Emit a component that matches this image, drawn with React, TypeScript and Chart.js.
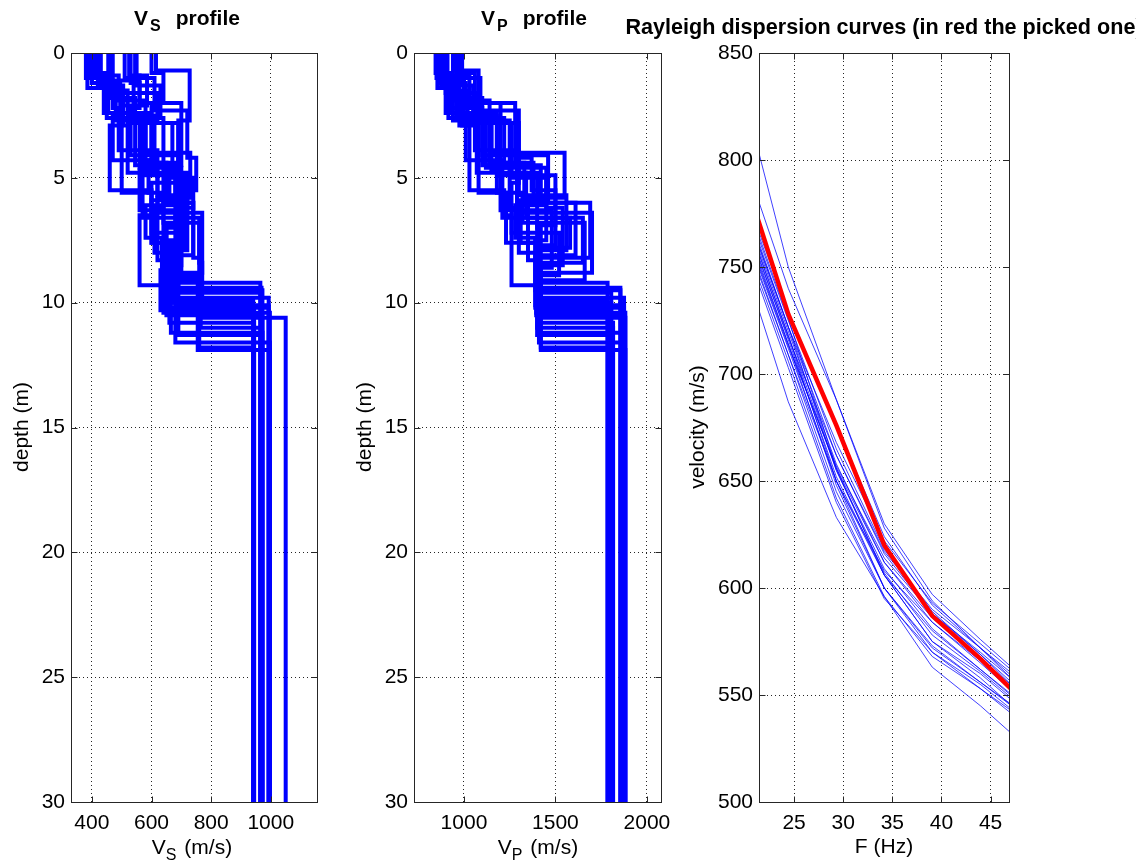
import React, { useEffect, useRef } from 'react';
import { Chart, registerables } from 'chart.js';

Chart.register(...registerables);

const FONT = '"Liberation Sans", Arial, Helvetica, sans-serif';

// ---------- tick labels ----------
const DEPTH_TICKS = [0, 5, 10, 15, 20, 25, 30];
const VS_TICKS = [400, 600, 800, 1000];
const VP_TICKS = [1000, 1500, 2000];
const FREQ_TICKS = [25, 30, 35, 40, 45];
const VEL_TICKS = [500, 550, 600, 650, 700, 750, 800, 850];

// ---------- dispersion curves ----------
const FREQUENCIES = [19.53, 24.41, 29.3, 34.18, 39.06, 43.95, 48.83];
const PICKED_CURVE = [798, 728, 676, 620, 587, 567, 545];
const MODEL_CURVES = [
  [837, 750, 688, 628, 594, 572, 552],
  [806, 740, 688, 630, 597, 576, 556],
  [790, 729, 676, 624, 592, 572, 550],
  [787, 725, 665, 618, 589, 569, 547],
  [784, 722, 662, 616, 588, 569, 549],
  [782, 720, 658, 612, 584, 565, 545],
  [780, 718, 655, 609, 581, 562, 543],
  [779, 716, 652, 606, 575, 560, 541],
  [777, 714, 648, 600, 572, 556, 539],
  [775, 714, 656, 612, 586, 567, 548],
  [773, 712, 650, 606, 580, 562, 544],
  [772, 709, 645, 600, 573, 556, 540],
  [770, 709, 650, 608, 584, 566, 547],
  [768, 706, 642, 596, 568, 553, 537],
  [766, 703, 640, 595, 570, 553, 535],
  [757, 687, 633, 596, 563, 545, 525],
  [781, 718, 650, 600, 570, 555, 537],
  [777, 717, 662, 617, 590, 572, 554],
  [786, 722, 655, 607, 578, 561, 542],
  [774, 713, 657, 614, 588, 570, 551],
  [789, 726, 656, 606, 575, 558, 538],
  [783, 722, 668, 622, 593, 574, 555],
];

// ---------- layered models (interface depths, m) ----------
const LAYER_DEPTHS = [
  [0.7, 2.7, 4.8, 6.6, 8.4, 10.6],
  [1.0, 2.4, 4.3, 5.6, 7.6, 9.2],
  [1.2, 2.6, 4.6, 6.2, 8.0, 10.0],
  [1.6, 2.9, 5.5, 6.5, 9.3, 11.6],
  [0.9, 2.0, 4.4, 5.9, 7.5, 9.5],
  [1.3, 2.5, 4.9, 6.9, 8.7, 10.3],
  [1.1, 2.2, 3.9, 5.7, 7.9, 9.8],
  [0.8, 1.8, 4.5, 6.0, 8.2, 11.0],
  [1.5, 2.8, 5.2, 7.2, 8.9, 11.9],
  [1.0, 2.3, 4.2, 5.5, 7.7, 10.5],
  [1.2, 2.7, 4.7, 6.3, 8.6, 9.9],
  [0.9, 2.1, 5.6, 6.8, 9.1, 11.3],
  [1.4, 2.6, 4.6, 6.1, 7.4, 10.2],
  [1.1, 2.5, 4.0, 5.8, 8.3, 10.8],
  [0.8, 2.0, 4.5, 6.4, 8.8, 9.4],
  [1.3, 2.9, 4.8, 7.0, 9.0, 11.8],
  [1.0, 2.4, 4.3, 6.6, 7.8, 10.4],
  [1.6, 2.8, 5.0, 6.2, 8.5, 11.2],
  [1.2, 2.2, 4.1, 5.9, 7.6, 9.6],
  [0.9, 1.9, 4.4, 6.0, 8.1, 10.1],
];

// shear-wave velocities per layer (m/s), last = half-space
const VS_LAYERS = [
  [615, 728, 690, 720, 760, 770, 1050],
  [380, 440, 470, 590, 600, 670, 965],
  [400, 495, 560, 640, 610, 640, 941],
  [455, 500, 460, 600, 560, 680, 997],
  [525, 560, 600, 680, 640, 690, 972],
  [550, 630, 570, 710, 650, 630, 944],
  [425, 470, 490, 620, 720, 660, 993],
  [390, 460, 545, 660, 740, 765, 969],
  [460, 520, 690, 600, 700, 755, 997],
  [510, 610, 720, 750, 690, 650, 972],
  [400, 480, 610, 560, 680, 675, 941],
  [545, 585, 500, 640, 760, 690, 965],
  [385, 450, 640, 700, 580, 635, 993],
  [430, 540, 580, 730, 620, 660, 944],
  [600, 640, 700, 620, 770, 685, 969],
  [420, 505, 520, 680, 650, 760, 941],
  [395, 455, 600, 570, 710, 640, 997],
  [470, 620, 670, 740, 700, 665, 972],
  [530, 560, 530, 690, 600, 645, 965],
  [410, 490, 580, 650, 740, 680, 993],
];

// compressional-wave velocities per layer (m/s), last = half-space
const VP_LAYERS = [
  [950, 1080, 1250, 1340, 1650, 1420, 1882],
  [850, 900, 1010, 1180, 1230, 1395, 1785],
  [870, 960, 1120, 1250, 1300, 1400, 1805],
  [900, 990, 1030, 1220, 1260, 1410, 1865],
  [960, 1000, 1200, 1380, 1450, 1390, 1855],
  [990, 1050, 1180, 1500, 1400, 1405, 1795],
  [880, 930, 1060, 1300, 1560, 1415, 1875],
  [845, 920, 1100, 1420, 1690, 1400, 1815],
  [905, 1020, 1300, 1260, 1520, 1420, 1882],
  [940, 1090, 1300, 1370, 1500, 1395, 1865],
  [860, 940, 1150, 1200, 1480, 1410, 1785],
  [970, 1030, 1080, 1320, 1660, 1400, 1805],
  [855, 915, 1220, 1450, 1280, 1390, 1875],
  [890, 1000, 1150, 1550, 1350, 1415, 1815],
  [985, 1060, 1280, 1290, 1700, 1405, 1855],
  [875, 975, 1070, 1400, 1420, 1420, 1795],
  [865, 925, 1180, 1210, 1580, 1395, 1882],
  [910, 1070, 1260, 1450, 1540, 1410, 1865],
  [965, 1010, 1100, 1460, 1310, 1400, 1805],
  [870, 955, 1140, 1330, 1610, 1390, 1875],
];

const MAX_DEPTH = 30;

// ---------- helpers ----------
type Pt = { x: number; y: number };

function stepProfile(depths: number[], vels: number[]): Pt[] {
  const pts: Pt[] = [];
  let top = 0;
  for (let i = 0; i < vels.length; i++) {
    const bottom = i < depths.length ? depths[i] : MAX_DEPTH;
    pts.push({ x: vels[i], y: top });
    pts.push({ x: vels[i], y: bottom });
    top = bottom;
  }
  return pts;
}

function curvePoints(vals: number[]): Pt[] {
  return FREQUENCIES.map((f, i) => ({ x: f, y: vals[i] }));
}

type Part = { text: string; sub?: boolean; pad?: number };

function drawRich(
  ctx: CanvasRenderingContext2D,
  parts: Part[],
  cx: number,
  cy: number,
  size: number,
  weight: string,
  angle: number,
  align: 'center' | 'left'
) {
  ctx.save();
  ctx.translate(cx, cy);
  ctx.rotate(angle);
  const subSize = Math.round(size * 0.78);
  let total = 0;
  const widths = parts.map((p) => {
    ctx.font = `${weight} ${p.sub ? subSize : size}px ${FONT}`;
    const w = ctx.measureText(p.text).width + (p.pad || 0);
    total += w;
    return w;
  });
  let x = align === 'center' ? -total / 2 : 0;
  ctx.fillStyle = '#000';
  ctx.textBaseline = 'alphabetic';
  ctx.textAlign = 'left';
  parts.forEach((p, i) => {
    ctx.font = `${weight} ${p.sub ? subSize : size}px ${FONT}`;
    ctx.fillText(p.text, x + (p.pad || 0), p.sub ? Math.round(size * 0.3) : 0);
    x += widths[i];
  });
  ctx.restore();
}

const framePlugin = {
  id: 'frame',
  afterDraw(chart: any, _args: any, opts: any) {
    const { ctx, chartArea: a } = chart;
    const xs = chart.scales.x;
    const ys = chart.scales.y;
    const L = Math.floor(a.left) + 0.5;
    const R = Math.floor(a.right) + 0.5;
    const T = Math.floor(a.top) + 0.5;
    const B = Math.floor(a.bottom) + 0.5;
    const tl = 6;
    ctx.save();
    ctx.strokeStyle = '#262626';
    ctx.lineWidth = 1;
    ctx.beginPath();
    (opts.xTicks || []).forEach((v: number) => {
      const px = Math.round(xs.getPixelForValue(v)) + 0.5;
      ctx.moveTo(px, B);
      ctx.lineTo(px, B - tl);
      ctx.moveTo(px, T);
      ctx.lineTo(px, T + tl);
    });
    (opts.yTicks || []).forEach((v: number) => {
      const py = Math.round(ys.getPixelForValue(v)) + 0.5;
      ctx.moveTo(L, py);
      ctx.lineTo(L + tl, py);
      ctx.moveTo(R, py);
      ctx.lineTo(R - tl, py);
    });
    ctx.stroke();
    ctx.strokeRect(L, T, R - L, B - T);
    ctx.restore();

    (opts.texts || []).forEach((t: any) => {
      drawRich(ctx, t.parts, t.x, t.y, t.size, t.weight || 'normal', t.angle || 0, t.align || 'center');
    });
  },
};

const W = 1136;
const H = 867;
const TOP = 53;
const BOTTOM = 802;
const YW = 60;
const XH = 30;
const TICK_SIZE = 21;
const LABEL_SIZE = 21;

type PanelSpec = {
  left: number;
  right: number;
  xMin: number;
  xMax: number;
  yMin: number;
  yMax: number;
  reverse: boolean;
  xTicks: number[];
  yTicks: number[];
  datasets: any[];
  texts: any[];
};

function buildChart(canvas: HTMLCanvasElement, s: PanelSpec) {
  const tickFont = { family: FONT, size: TICK_SIZE };
  const gridCommon = {
    color: 'rgba(0,0,0,0.85)',
    lineWidth: 1,
    drawTicks: false,
  };
  return new Chart(canvas, {
    type: 'scatter',
    data: { datasets: s.datasets },
    options: {
      animation: false,
      responsive: false,
      devicePixelRatio: 1,
      events: [],
      layout: {
        padding: {
          left: s.left - YW,
          right: W - s.right,
          top: TOP,
          bottom: H - BOTTOM - XH,
        },
      },
      plugins: {
        legend: { display: false },
        tooltip: { enabled: false },
        title: { display: false },
        frame: { xTicks: s.xTicks, yTicks: s.yTicks, texts: s.texts },
      } as any,
      scales: {
        x: {
          type: 'linear',
          min: s.xMin,
          max: s.xMax,
          afterBuildTicks: (sc: any) => {
            sc.ticks = s.xTicks.map((v) => ({ value: v }));
          },
          afterFit: (sc: any) => {
            sc.height = XH;
          },
          grid: gridCommon,
          border: { display: false, dash: [1, 3] },
          ticks: {
            font: tickFont,
            color: '#000',
            padding: 9,
            maxRotation: 0,
            autoSkip: false,
            callback: (v: any) => String(v),
          },
        },
        y: {
          type: 'linear',
          min: s.yMin,
          max: s.yMax,
          reverse: s.reverse,
          afterBuildTicks: (sc: any) => {
            sc.ticks = s.yTicks.map((v) => ({ value: v }));
          },
          afterFit: (sc: any) => {
            sc.width = YW;
          },
          grid: gridCommon,
          border: { display: false, dash: [1, 3] },
          ticks: {
            font: tickFont,
            color: '#000',
            padding: 6,
            autoSkip: false,
            callback: (v: any) => String(v),
          },
        },
      },
    } as any,
    plugins: [framePlugin as any],
  });
}

function profileDatasets(vels: number[][]) {
  return vels.map((v, i) => ({
    data: stepProfile(LAYER_DEPTHS[i], v),
    showLine: true,
    borderColor: '#0000ff',
    backgroundColor: '#0000ff',
    borderWidth: 4,
    pointRadius: 0,
    borderJoinStyle: 'miter',
    fill: false,
    tension: 0,
    clip: 0,
  }));
}

function dispersionDatasets() {
  const red = {
    data: curvePoints(PICKED_CURVE),
    showLine: true,
    borderColor: '#ff0000',
    borderWidth: 4.5,
    pointRadius: 0,
    fill: false,
    tension: 0,
    clip: 0,
  };
  const blues = MODEL_CURVES.map((c) => ({
    data: curvePoints(c),
    showLine: true,
    borderColor: 'rgba(0,0,255,0.75)',
    borderWidth: 1,
    pointRadius: 0,
    fill: false,
    tension: 0,
    clip: 0,
  }));
  return [red, ...blues];
}

export default function App() {
  const c1 = useRef<HTMLCanvasElement>(null);
  const c2 = useRef<HTMLCanvasElement>(null);
  const c3 = useRef<HTMLCanvasElement>(null);

  useEffect(() => {
    Chart.defaults.font.family = FONT;
    Chart.defaults.color = '#000';
    const charts: Chart[] = [];
    charts.push(
      buildChart(c1.current!, {
        left: 71,
        right: 317,
        xMin: 330,
        xMax: 1155,
        yMin: 0,
        yMax: MAX_DEPTH,
        reverse: true,
        xTicks: VS_TICKS,
        yTicks: DEPTH_TICKS,
        datasets: profileDatasets(VS_LAYERS),
        texts: [
          { parts: [{ text: 'V' }, { text: 'S', sub: true, pad: 2 }, { text: 'profile', pad: 15 }], x: 187, y: 25, size: LABEL_SIZE, weight: 'bold' },
          { parts: [{ text: 'V' }, { text: 'S', sub: true }, { text: ' (m/s)', pad: 2 }], x: 192, y: 854, size: LABEL_SIZE },
          { parts: [{ text: 'depth (m)' }], x: 28, y: 427, size: LABEL_SIZE, angle: -Math.PI / 2 },
        ],
      })
    );
    charts.push(
      buildChart(c2.current!, {
        left: 414,
        right: 661,
        xMin: 727,
        xMax: 2077,
        yMin: 0,
        yMax: MAX_DEPTH,
        reverse: true,
        xTicks: VP_TICKS,
        yTicks: DEPTH_TICKS,
        datasets: profileDatasets(VP_LAYERS),
        texts: [
          { parts: [{ text: 'V' }, { text: 'P', sub: true, pad: 2 }, { text: 'profile', pad: 15 }], x: 534, y: 25, size: LABEL_SIZE, weight: 'bold' },
          { parts: [{ text: 'V' }, { text: 'P', sub: true }, { text: ' (m/s)', pad: 2 }], x: 538, y: 854, size: LABEL_SIZE },
          { parts: [{ text: 'depth (m)' }], x: 371, y: 427, size: LABEL_SIZE, angle: -Math.PI / 2 },
        ],
      })
    );
    charts.push(
      buildChart(c3.current!, {
        left: 759,
        right: 1009,
        xMin: 21.43,
        xMax: 46.87,
        yMin: 500,
        yMax: 850,
        reverse: false,
        xTicks: FREQ_TICKS,
        yTicks: VEL_TICKS,
        datasets: dispersionDatasets(),
        texts: [
          { parts: [{ text: 'Rayleigh dispersion curves (in red the picked one)' }], x: 884, y: 34, size: 21.6, weight: 'bold' },
          { parts: [{ text: 'F (Hz)' }], x: 884, y: 853, size: LABEL_SIZE },
          { parts: [{ text: 'velocity (m/s)' }], x: 704, y: 427, size: LABEL_SIZE, angle: -Math.PI / 2 },
        ],
      })
    );
    return () => charts.forEach((c) => c.destroy());
  }, []);

  const cs: React.CSSProperties = { position: 'absolute', left: 0, top: 0, width: W, height: H };
  return (
    <div style={{ position: 'fixed', left: 0, top: 0, width: W, height: H, overflow: 'hidden', background: '#fff' }}>
      <canvas ref={c1} width={W} height={H} style={cs} />
      <canvas ref={c2} width={W} height={H} style={cs} />
      <canvas ref={c3} width={W} height={H} style={cs} />
    </div>
  );
}
